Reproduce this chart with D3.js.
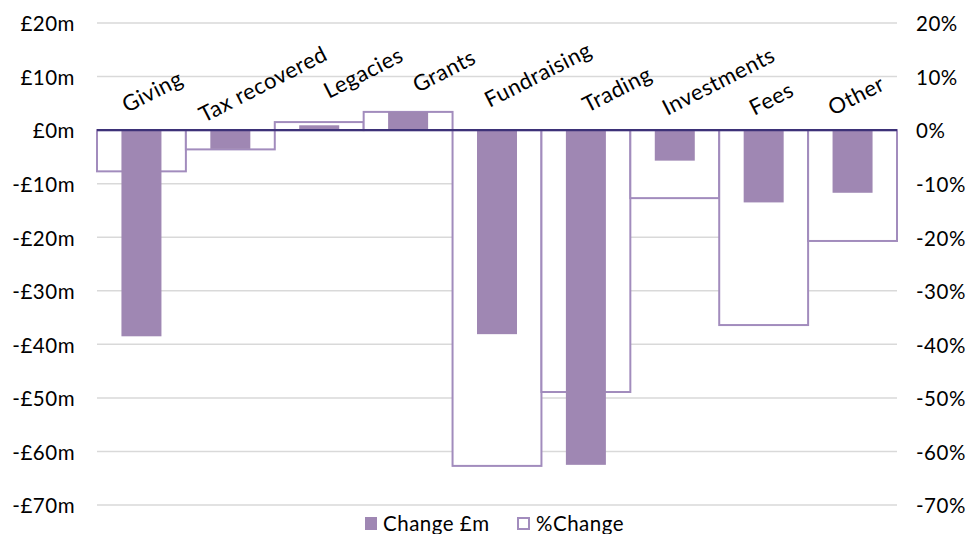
<!DOCTYPE html>
<html>
<head>
<meta charset="utf-8">
<script src="https://cdn.jsdelivr.net/npm/d3@7"></script>
<style>
  html, body { margin: 0; padding: 0; background: #fff; }
  svg text { font-family: Lato, "Open Sans", sans-serif; fill: #000; letter-spacing: 0.5px; }
</style>
</head>
<body>
<svg id="chart" width="969" height="534"></svg>
<script>
// ---- data ----
const categories = ["Giving", "Tax recovered", "Legacies", "Grants", "Fundraising", "Trading", "Investments", "Fees", "Other"];
const changeM   = [-38.5, -3.5, 0.9, 3.4, -38.1, -62.5, -5.7, -13.5, -11.7];
const changePct = [-7.7, -3.6, 1.5, 3.4, -62.7, -48.9, -12.7, -36.4, -20.7];
const leftTicks  = [20, 10, 0, -10, -20, -30, -40, -50, -60, -70];
const rightTicks = [20, 10, 0, -10, -20, -30, -40, -50, -60, -70];
const seriesNames = ["Change £m", "%Change"];

// ---- layout (not data) ----
const W = 969, H = 534;
const plot = { left: 97, right: 897, top: 23, bottom: 505 };
// label anchor: offset from band start, baseline y
const labelAnchor = [[30, 113], [18, 123], [54, 99], [54, 93], [37, 108], [46, 113], [37, 116], [35, 116], [25, 116]];
const purple = "#9f87b3";
const outline = "#a28cbd";

const svg = d3.select("#chart");

const x = d3.scaleBand().domain(categories).range([plot.left, plot.right]).paddingInner(0).paddingOuter(0);
const yL = d3.scaleLinear().domain([-70, 20]).range([plot.bottom, plot.top]);
const yR = d3.scaleLinear().domain([-70, 20]).range([plot.bottom, plot.top]);

// gridlines
svg.append("g").selectAll("line").data(leftTicks.filter(d => d !== 0)).join("line")
  .attr("x1", plot.left).attr("x2", plot.right)
  .attr("y1", d => yL(d)).attr("y2", d => yL(d))
  .attr("stroke", "#d9d9d9").attr("stroke-width", 1.5);

// % change boxes (full band width, behind)
svg.append("g").selectAll("rect").data(categories).join("rect")
  .attr("x", d => x(d))
  .attr("width", x.bandwidth())
  .attr("y", (d, i) => Math.min(yR(0), yR(changePct[i])))
  .attr("height", (d, i) => Math.abs(yR(changePct[i]) - yR(0)))
  .attr("fill", "#fff")
  .attr("stroke", outline).attr("stroke-width", 2);

// £m bars
const barW = 40;
svg.append("g").selectAll("rect").data(categories).join("rect")
  .attr("x", d => x(d) + (x.bandwidth() - barW) / 2)
  .attr("width", barW)
  .attr("y", (d, i) => Math.min(yL(0), yL(changeM[i])))
  .attr("height", (d, i) => Math.abs(yL(changeM[i]) - yL(0)))
  .attr("fill", purple);

// zero line
svg.append("line")
  .attr("x1", plot.left).attr("x2", plot.right)
  .attr("y1", yL(0)).attr("y2", yL(0))
  .attr("stroke", "#3d3278").attr("stroke-width", 2.2);

// left axis
const fmtL = d => (d < 0 ? "-" : "") + "£" + Math.abs(d) + "m";
const axL = d3.axisLeft(yL).tickValues(leftTicks).tickFormat(fmtL).tickSize(0).tickPadding(0);
const gL = svg.append("g").attr("transform", `translate(75,0)`).call(axL);
gL.select(".domain").remove();
gL.selectAll("text").attr("font-size", 20.5).attr("font-family", "Lato, sans-serif").attr("dy", "0.38em").attr("fill", "#000");

// right axis
const fmtR = d => d + "%";
const axR = d3.axisRight(yR).tickValues(rightTicks).tickFormat(fmtR).tickSize(0).tickPadding(0);
const gR = svg.append("g").attr("transform", `translate(916,0)`).call(axR);
gR.select(".domain").remove();
gR.selectAll("text").attr("font-size", 20.5).attr("font-family", "Lato, sans-serif").attr("dy", "0.38em").attr("fill", "#000");

// category labels
svg.append("g").selectAll("text").data(categories).join("text")
  .attr("transform", (d, i) => `translate(${x(d) + labelAnchor[i][0]},${labelAnchor[i][1]}) rotate(-27)`)
  .attr("text-anchor", "start")
  .attr("font-size", 22)
  .text(d => d);

// legend
const leg = svg.append("g");
leg.append("rect").attr("x", 365).attr("y", 517).attr("width", 12).attr("height", 13).attr("fill", purple);
leg.append("text").attr("x", 383).attr("y", 531).attr("font-size", 20.5).text(seriesNames[0]);
leg.append("rect").attr("x", 518).attr("y", 518).attr("width", 11).attr("height", 11).attr("fill", "#fff").attr("stroke", outline).attr("stroke-width", 2);
leg.append("text").attr("x", 536).attr("y", 531).attr("font-size", 20.5).text(seriesNames[1]);
</script>
</body>
</html>
